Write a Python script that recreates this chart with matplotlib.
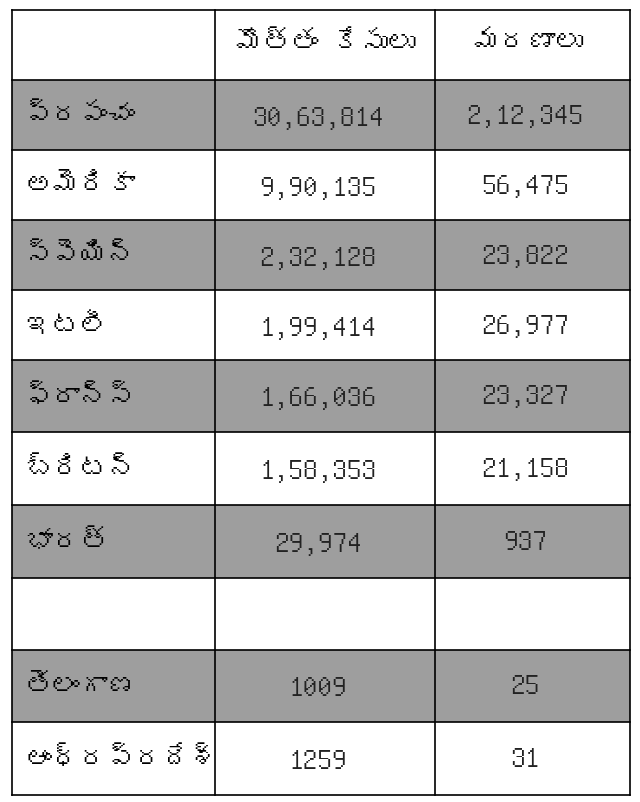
import matplotlib
matplotlib.use("Agg")
import matplotlib.pyplot as plt
from matplotlib.patches import Rectangle
from matplotlib import font_manager

headers = ["", "మొత్తం కేసులు", "మరణాలు"]
regions = ["ప్రపంచం", "అమెరికా", "స్పెయిన్", "ఇటలీ", "ఫ్రాన్స్", "బ్రిటన్", "భారత్", "", "తెలంగాణ", "ఆంధ్రప్రదేశ్"]
cases = ["30,63,814", "9,90,135", "2,32,128", "1,99,414", "1,66,036", "1,58,353", "29,974", "", "1009", "1259"]
deaths = ["2,12,345", "56,475", "23,822", "26,977", "23,327", "21,158", "937", "", "25", "31"]
shaded = [True, False, True, False, True, False, True, False, True, False]

# look for any installed font that covers Telugu
fam = []
try:
    from fontTools.ttLib import TTFont
    for f in font_manager.fontManager.ttflist:
        try:
            t = TTFont(f.fname, fontNumber=0, lazy=True)
            cmap = t.getBestCmap() or {}
            if 0x0C2E in cmap and f.name not in fam:
                fam.append(f.name)
                break
        except Exception:
            pass
except Exception:
    pass
fam += ["Noto Sans", "DejaVu Sans"]

fig = plt.figure(figsize=(6.4, 8.02), dpi=100)
ax = fig.add_axes([0, 0, 1, 1])
ax.set_xlim(0, 640); ax.set_ylim(802, 0); ax.axis("off")

xs = [12, 215, 435, 630]
ys = [10, 80, 150, 220, 290, 360, 432, 505, 578, 650, 722, 795]

for i in range(len(regions)):
    y0, y1 = ys[i + 1], ys[i + 2]
    if shaded[i]:
        ax.add_patch(Rectangle((xs[0], y0), xs[3] - xs[0], y1 - y0, color="#9e9e9e", lw=0))
for x in xs:
    ax.plot([x, x], [ys[0], ys[-1]], color="black", lw=1.2)
for y in ys:
    ax.plot([xs[0], xs[3]], [y, y], color="black", lw=1.2)

ax.text(325, 42, headers[1], ha="center", va="center", fontsize=20, family=fam)
ax.text(528, 42, headers[2], ha="center", va="center", fontsize=20, family=fam)
for i in range(len(regions)):
    yc = (ys[i + 1] + ys[i + 2]) / 2
    ax.text(25, yc, regions[i], ha="left", va="center", fontsize=20, family=fam)
    ax.text(318, yc + 2, cases[i], ha="center", va="center", fontsize=21, family=fam, color="#222222")
    ax.text(525, yc, deaths[i], ha="center", va="center", fontsize=21, family=fam, color="#222222")

fig.savefig("out.png", dpi=100, facecolor="white")
